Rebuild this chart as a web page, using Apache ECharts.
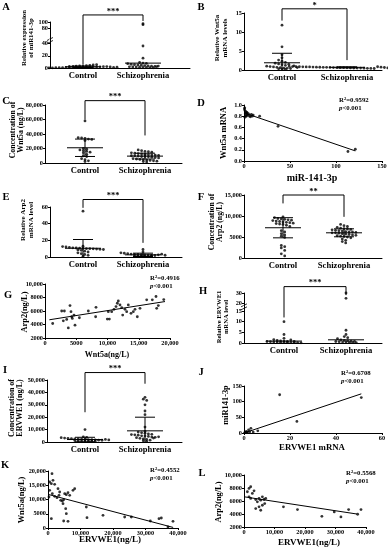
<!DOCTYPE html>
<html><head><meta charset="utf-8">
<script src="https://cdn.jsdelivr.net/npm/echarts@6.0.0/dist/echarts.min.js"></script>
<style>html,body{margin:0;padding:0;background:#fff;}#chart{width:388px;height:550px;}</style>
</head><body><div id="chart"></div>
<script>
// ================= DATA =================
const groupNames = ['Control', 'Schizophrenia'];

// A: relative expression of miR141-3p
const A_control = [0.2,0.3,0.5,0.6,0.7,0.8,0.9,1.0,1.1,1.2,1.3,1.4,1.5,1.6,1.8,2.0,2.1,2.3,2.5,2.7,3.0,3.3,3.6,4.0,4.4,5.0,5.5,1.7,0.9,1.2];
const A_schiz = [95,92,36,16,9,8,7.5,7,6,5.5,5,4.5,4,3.5,3,2.5,2,1.8,1.5,1.2,1,0.8,0.6,0.4,2.2,3.2];
const A_mean = [2.0, 8.0];
const A_sd = [1.2, 0];
const A_ticks = [0, 20, 40, 80, 100];
const A_bracket = [6, 103, 121];

// B: relative Wnt5a mRNA
const B_control = [11.8,6.1,4.0,3.2,2.6,2.3,2.0,1.8,1.6,1.4,1.2,1.0,0.9,0.8,0.7,0.6,0.5,0.45,0.4,0.3,0.25,0.2,1.1,1.5,0.65];
const B_schiz = [0.95,0.9,0.88,0.85,0.83,0.8,0.8,0.78,0.75,0.72,0.7,0.7,0.68,0.65,0.62,0.6,0.6,0.58,0.55,0.52,0.5,0.5,0.48,0.45,0.42,0.4,0.85,0.75,0.66,0.55,0.92,0.82,0.72,0.62,0.57];
const B_mean = [1.9, 0.7];
const B_sd = [2.5, 0.15];
const B_ticks = [0, 5, 10, 15];
const B_bracket = [13, 2.6, 16.1];

// C: Wnt5a concentration (ng/L)
const C_control = [58000,35000,34500,34000,33000,32500,31000,20000,19000,18000,17000,16000,15000,14000,12000,10000,9000,6000,4500,3000,2000];
const C_schiz = [18000,17000,16000,15500,15000,14000,13500,13000,12500,12000,11500,11000,11000,10500,10000,10000,9500,9000,9000,8500,8000,7500,7000,6000,5500,5000,4500,4000,3500,3000,2500,2000,1500];
const C_mean = [21000, 9500];
const C_sd = [12000, 4000];
const C_ticks = [0, 20000, 40000, 60000, 80000];
const C_bracket = [60000, 38000, 86000];

// E: relative Arp2 mRNA
const E_control = [55,13,12.5,12,11.5,11,10.8,10.5,10.2,10,10,9.8,9.5,9.2,9,8.5,8,7,6,5,4,3,2,1];
const E_schiz = [9,6,5,4.5,4,3.5,3.2,3,2.8,2.5,2.3,2,1.8,1.5,1.2,1,0.8,0.5,2.6,3.4,1.6,2.1];
const E_mean = [10.5, 2.6];
const E_sd = [10.5, 2];
const E_ticks = [0, 20, 40, 60];
const E_bracket = [59, 17, 69];

// F: Arp2 concentration (ng/L)
const F_control = [9800,9600,9400,9300,9200,9100,9000,8900,8800,8700,8600,8500,8400,8300,8200,8100,8000,7800,7500,6500,6200,5800,5500,5200,4900,3000,2700,2400,1800,1000,500];
const F_schiz = [8000,7700,7500,7300,7100,7000,6900,6800,6700,6600,6500,6400,6300,6200,6200,6100,6000,6000,5900,5800,5700,5600,5500,5400,5300,5200,5100,5000,4800,4500,4200,3900,3600];
const F_mean = [7200, 6000];
const F_sd = [2400, 950];
const F_ticks = [0, 5000, 10000, 15000];
const F_bracket = [13000, 9800, 15000];

// H: relative ERVWE1 mRNA
const H_control = [10,4,2.2,1.6,1.2,1.0,0.9,0.8,0.7,0.6,0.5,0.5,0.4,0.35,0.3,0.25,0.2,0.15,0.1,1.4,0.75];
const H_schiz = [30,25,6,4,3,2.5,2,1.5,1.2,1,0.9,0.8,0.7,0.6,0.5,0.5,0.4,0.3,0.2];
const H_mean = [0.9, 1.5];
const H_sd = [0, 0];
const H_ticks = [0, 5, 10, 15, 20, 30];
const H_bracket = [12, 28, 36];

// I: ERVWE1 concentration (ng/L)
const I_control = [10000,4200,3800,3500,3200,3000,2800,2600,2400,2200,2000,1900,1800,1600,1500,1400,1200,1000,900,800,700,600,500,2100,1700];
const I_schiz = [36000,34500,33500,30000,25000,22000,12000,8500,8000,7500,7000,6500,6000,5800,5500,5000,4800,4500,4000,3800,3500,3000,2500,2000,1500,1000,500,6200,4200,3200];
const I_mean = [2000, 9000];
const I_sd = [1800, 11000];
const I_ticks = [0, 10000, 20000, 30000, 40000, 50000];
const I_bracket = [24000, 47000, 56000];

// D: miR-141-3p vs Wnt5a mRNA
const D_x = [0.5,1,1.5,2,2.5,3,3.5,4,5,6,7,8,9,10,1,2,3,0.8,17,37,113,121];
const D_y = [0.93,0.9,0.85,0.88,0.8,0.83,0.86,0.82,0.84,0.8,0.79,0.83,0.8,0.82,0.78,0.81,0.87,0.95,0.80,0.62,0.17,0.21];
const D_fit = [[0, 0.86], [121, 0.18]];
const D_stats = ['0.9592', '0.001'];

// G: Wnt5a vs Arp2 (ng/L)
const G_x = [1230,2670,3100,2930,3470,3730,4000,4160,4270,4370,4640,4800,5500,6930,8160,8100,9970,10300,10130,10670,11040,11360,11570,11730,12000,12270,12430,12800,13070,13330,13760,14130,14400,14770,15200,16270,17170,17870,17760,18130,19000];
const G_y = [4150,6000,6000,4550,4750,3500,6800,5900,5150,4900,5400,3900,5000,6000,6550,5150,4800,4800,5900,5900,6250,6650,7150,7500,6900,6500,5400,6250,5900,6900,5650,5900,6250,5150,6400,7650,7650,6400,8150,6800,7700];
const G_fit = [[700, 4700], [19200, 7400]];
const G_stats = ['0.4916', '0.001'];

// J: ERVWE1 mRNA vs miR141-3p
const J_x = [15.5,51,23,6,3,2,1,0.5,1.5,0.8,0.3,1.2,2.5,0.6,4];
const J_y = [122,113,37,7,15,10,5,2,3,1,0.5,2,4,1,3];
const J_fit = [[0, 0], [51, 125]];
const J_stats = ['0.6708', '0.001'];

// K: ERVWE1 vs Wnt5a (ng/L)
const K_x = [1230,510,1030,1540,2050,510,1330,3080,3590,300,2050,2770,3380,3900,4410,4820,5130,5640,6150,6670,7690,8210,4620,5440,5640,4820,1030,6150,11790,12000,16920,23590,25640,31490,34150,34870,38460,36920];
const K_y = [19060,16140,15550,16720,15320,13220,12050,13800,12630,10880,11110,10640,11460,9710,9470,9940,12050,11700,12400,11460,13220,13800,8540,6780,5030,2460,3270,2340,7370,3630,4440,3860,3860,2460,3270,3510,2340,350];
const K_fit = [[0, 11800], [38500, 200]];
const K_stats = ['0.4552', '0.001'];

// L: ERVWE1 vs Arp2 (ng/L)
const L_x = [1640,2190,1100,1640,2190,2740,3290,3840,4380,4930,5480,6030,6580,7120,4930,5480,6030,3840,6790,12930,17530,25530,29590,31780,34300,37260,38360];
const L_y = [7940,8190,7420,6650,6390,7160,7570,6230,5870,6390,6130,6650,6230,6390,5100,4580,5350,4840,5610,5100,4680,3650,4320,3550,4680,3960,4680];
const L_fit = [[0, 6650], [37000, 4000]];
const L_stats = ['0.5568', '0.001'];

// ================= LAYOUT / STYLE =================
const SERIF = '"Liberation Serif", "DejaVu Serif", serif';
const ROW_H = 3.0, DOT_DX = 3.4, DOT_SIZE = 2.8;
function fmtNum(v) {
  const s = String(Math.round(v));
  return Math.abs(v) >= 10000 ? s.replace(/\B(?=(\d{3})+(?!\d))/g, ',') : s;
}
function makeT(brk) {
  if (!brk) return v => v;
  const b = brk[0], k = brk[1];
  return v => (v <= b ? v : b + (v - b) * k);
}

const dotPanels = [
  {letter:'A', L:[6,7], ctrl:A_control, schiz:A_schiz, mean:A_mean, sd:A_sd, ticks:A_ticks, bracket:A_bracket, stars:'***',
   x0:50, x1:190, y0:22, y1:68, cx:[83,143], min:0, max:100, brk:[45,0.55],
   name:'Relative expression\nof miR141-3p', nameX:28, nameY:38, nameFs:6.8},
  {letter:'B', L:[201,7], ctrl:B_control, schiz:B_schiz, mean:B_mean, sd:B_sd, ticks:B_ticks, bracket:B_bracket, stars:'*',
   x0:244, x1:382, y0:13, y1:70, cx:[282,347], min:0, max:15,
   name:'Relative Wnt5a\nmRNA levels', nameX:221, nameY:38, nameFs:7},
  {letter:'C', L:[6,101], ctrl:C_control, schiz:C_schiz, mean:C_mean, sd:C_sd, ticks:C_ticks, bracket:C_bracket, stars:'***',
   x0:45, x1:182, y0:105, y1:163, cx:[85,145], min:0, max:80000,
   name:'Concentration of\nWnt5a (ng/L)', nameX:17, nameY:130, nameFs:7.8},
  {letter:'E', L:[6,197], ctrl:E_control, schiz:E_schiz, mean:E_mean, sd:E_sd, ticks:E_ticks, bracket:E_bracket, stars:'***',
   x0:50, x1:182, y0:207, y1:257, cx:[83,143], min:0, max:60,
   name:'Relative Arp2\nmRNA level', nameX:27, nameY:220, nameFs:7},
  {letter:'F', L:[201,197], ctrl:F_control, schiz:F_schiz, mean:F_mean, sd:F_sd, ticks:F_ticks, bracket:F_bracket, stars:'**',
   x0:244, x1:382, y0:195, y1:258, cx:[283,344], min:0, max:15000,
   name:'Concentration of\nArp2 (ng/L)', nameX:216, nameY:222, nameFs:7.8},
  {letter:'H', L:[203,291], ctrl:H_control, schiz:H_schiz, mean:H_mean, sd:H_sd, ticks:H_ticks, bracket:H_bracket, stars:'***',
   x0:244, x1:382, y0:293, y1:343, cx:[284,346], min:0, max:30, brk:[17,0.5],
   name:'Relative ERVWE1\nmRNA level', nameX:223, nameY:317, nameFs:6.6},
  {letter:'I', L:[5,370], ctrl:I_control, schiz:I_schiz, mean:I_mean, sd:I_sd, ticks:I_ticks, bracket:I_bracket, stars:'***',
   x0:47, x1:182, y0:380, y1:442, cx:[85,145], min:0, max:50000,
   name:'Concentration of\nERVWE1 (ng/L)', nameX:16, nameY:408, nameFs:8}
];

const scatterPanels = [
  {letter:'D', L:[201,103], xs:D_x, ys:D_y, fit:D_fit, stats:D_stats,
   x0:244, x1:382, y0:105, y1:161, xmin:0, xmax:150, xint:50, ymin:0, ymax:1, yint:0.2, yfmt:v=>v.toFixed(1),
   xname:'miR-141-3p', xnFs:10, xnX:312, xnY:178, yname:'Wnt5a mRNA', ynFs:8.5, ynX:224, ynY:133, sX:339, sY:104},
  {letter:'G', L:[8,295], xs:G_x, ys:G_y, fit:G_fit, stats:G_stats,
   x0:45, x1:170, y0:284, y1:338, xmin:0, xmax:20000, xint:5000, ymin:2000, ymax:10000, yint:2000,
   xname:'Wnt5a(ng/L)', xnFs:8, xnX:107, xnY:355, yname:'Arp2(ng/L)', ynFs:8.4, ynX:25, ynY:312, sX:150, sY:282},
  {letter:'J', L:[201,372], xs:J_x, ys:J_y, fit:J_fit, stats:J_stats,
   x0:244, x1:382, y0:386, y1:433, xmin:0, xmax:60, xint:20, ymin:0, ymax:150, yint:50,
   xname:'ERVWE1 mRNA', xnFs:8.8, xnX:312, xnY:448, yname:'miR141-3p', ynFs:8.4, ynX:226, ynY:405, sX:341, sY:377},
  {letter:'K', L:[5,465], xs:K_x, ys:K_y, fit:K_fit, stats:K_stats,
   x0:48, x1:178, y0:471, y1:528, xmin:0, xmax:40000, xint:10000, ymin:0, ymax:20000, yint:5000,
   xname:'ERVWE1(ng/L)', xnFs:9, xnX:110, xnY:540, yname:'Wnt5a(ng/L)', ynFs:8.4, ynX:22, ynY:500, sX:150, sY:474},
  {letter:'L', L:[202,473], xs:L_x, ys:L_y, fit:L_fit, stats:L_stats,
   x0:244, x1:366, y0:475, y1:527, xmin:0, xmax:40000, xint:10000, ymin:2000, ymax:10000, yint:2000,
   xname:'ERVWE1(ng/L)', xnFs:9, xnX:309, xnY:543, yname:'Arp2(ng/L)', ynFs:8.4, ynX:219, ynY:502, sX:346, sY:477}
];

// ================= BUILD =================
const axisLine = {show:true, lineStyle:{color:'#000', width:1}};
const tickLbl = {fontSize:6.3, fontWeight:'bold', fontFamily:SERIF, color:'#000', margin:2};
const option = {animation:false, backgroundColor:'#fff', grid:[], xAxis:[], yAxis:[], series:[], graphic:[]};

function addText(x, y, text, fs, opts) {
  option.graphic.push(Object.assign({type:'text', x:x, y:y, silent:true,
    style:{text:text, fontSize:fs, fontWeight:'bold', fontFamily:SERIF, fill:'#000', align:'center', verticalAlign:'middle', lineHeight:fs*1.1}}, opts || {}));
}

let gi = 0;
dotPanels.forEach(p => {
  const T = makeT(p.brk);
  const w = p.x1 - p.x0, h = p.y1 - p.y0;
  const cf = p.cx.map(c => (c - p.x0) / w);
  const tmin = T(p.min), tmax = T(p.max);
  option.grid.push({left:p.x0, top:p.y0, width:w, height:h, containLabel:false, outerBoundsMode:'none'});
  option.xAxis.push({gridIndex:gi, type:'value', min:0, max:1, axisLine:axisLine, axisTick:{show:false}, splitLine:{show:false},
    axisLabel:{customValues:cf, formatter:v => groupNames[Math.abs(v-cf[0]) < Math.abs(v-cf[1]) ? 0 : 1],
      fontSize:8.6, fontWeight:'bold', fontFamily:SERIF, color:'#000', margin:3}});
  const tv = p.ticks.map(T);
  option.yAxis.push({gridIndex:gi, type:'value', min:tmin, max:tmax, axisLine:axisLine, splitLine:{show:false},
    axisTick:{show:true, length:2, customValues:tv, lineStyle:{color:'#000'}},
    axisLabel:Object.assign({}, tickLbl, {customValues:tv, formatter:v => {
      const i = tv.findIndex(t => Math.abs(t - v) < 1e-6); return i < 0 ? '' : fmtNum(p.ticks[i]); }})});
  // beeswarm positions computed from values
  [p.ctrl, p.schiz].forEach((vals, k) => {
    const rows = {};
    vals.forEach(v => { const py = (T(v) - tmin) / (tmax - tmin) * h; const r = Math.round(py / ROW_H); (rows[r] = rows[r] || []).push(v); });
    const pts = [];
    Object.keys(rows).forEach(r => { const arr = rows[r], n = arr.length;
      arr.forEach((v, i) => pts.push([cf[k] + (i - (n - 1) / 2) * DOT_DX / w, T(v)])); });
    option.series.push({type:'scatter', xAxisIndex:gi, yAxisIndex:gi, data:pts, symbolSize:DOT_SIZE,
      itemStyle:{color:'#000'}, silent:true, clip:false});
  });
  // mean +/- SD
  option.series.push({type:'custom', xAxisIndex:gi, yAxisIndex:gi, silent:true, clip:false,
    data:[0,1].map(k => [cf[k], T(p.mean[k]), T(Math.max(p.mean[k] - p.sd[k], p.min)), T(p.mean[k] + p.sd[k]), p.sd[k]]),
    renderItem:(params, api) => {
      const m = api.coord([api.value(0), api.value(1)]);
      const lo = api.coord([api.value(0), api.value(2)]);
      const hi = api.coord([api.value(0), api.value(3)]);
      const st = {stroke:'#000', lineWidth:1};
      const ch = [{type:'line', shape:{x1:m[0]-18, y1:m[1], x2:m[0]+18, y2:m[1]}, style:st}];
      if (api.value(4) > 0) {
        ch.push({type:'line', shape:{x1:m[0], y1:lo[1], x2:m[0], y2:hi[1]}, style:st});
        ch.push({type:'line', shape:{x1:m[0]-10, y1:hi[1], x2:m[0]+10, y2:hi[1]}, style:st});
        if (api.value(2) > T(p.min)) ch.push({type:'line', shape:{x1:m[0]-10, y1:lo[1], x2:m[0]+10, y2:lo[1]}, style:st});
      }
      return {type:'group', children:ch};
    }});
  // significance bracket
  option.series.push({type:'custom', xAxisIndex:gi, yAxisIndex:gi, silent:true, clip:false,
    data:[[cf[0], T(p.bracket[0]), cf[1], T(p.bracket[1]), T(p.bracket[2])]],
    renderItem:(params, api) => {
      const a = api.coord([api.value(0), api.value(1)]);
      const b = api.coord([api.value(0), api.value(4)]);
      const c = api.coord([api.value(2), api.value(4)]);
      const d = api.coord([api.value(2), api.value(3)]);
      return {type:'group', children:[
        {type:'polyline', shape:{points:[a, b, c, d]}, style:{stroke:'#000', lineWidth:1, fill:null}},
        {type:'text', style:{text:p.stars, x:(b[0]+c[0])/2, y:b[1]+1, align:'center', verticalAlign:'bottom',
          fontSize:8.5, fontWeight:'bold', fontFamily:SERIF, fill:'#000'}}]};
    }});
  // axis break marks
  if (p.brk) {
    const yb = p.y1 - (T(p.brk[0]) - tmin) / (tmax - tmin) * h;
    [-1.5, 1.5].forEach(o => option.graphic.push({type:'line', silent:true,
      shape:{x1:p.x0-3, y1:yb+o+1.5, x2:p.x0+3, y2:yb+o-1.5}, style:{stroke:'#000', lineWidth:0.8}}));
    option.graphic.push({type:'rect', silent:true, shape:{x:p.x0-1, y:yb-1.2, width:2, height:2.4}, style:{fill:'#fff'}});
  }
  addText(p.L[0], p.L[1], p.letter, 10.5);
  addText(p.nameX, p.nameY, p.name, p.nameFs, {rotation:Math.PI/2});
  gi++;
});

scatterPanels.forEach(p => {
  const w = p.x1 - p.x0, h = p.y1 - p.y0;
  option.grid.push({left:p.x0, top:p.y0, width:w, height:h, containLabel:false, outerBoundsMode:'none'});
  option.xAxis.push({gridIndex:gi, type:'value', min:p.xmin, max:p.xmax, interval:p.xint, axisLine:axisLine, splitLine:{show:false},
    axisTick:{show:true, length:2, lineStyle:{color:'#000'}},
    axisLabel:Object.assign({}, tickLbl, {formatter:v => fmtNum(v), showMinLabel:true, showMaxLabel:true})});
  option.yAxis.push({gridIndex:gi, type:'value', min:p.ymin, max:p.ymax, interval:p.yint, axisLine:axisLine, splitLine:{show:false},
    axisTick:{show:true, length:2, lineStyle:{color:'#000'}},
    axisLabel:Object.assign({}, tickLbl, {formatter:p.yfmt || (v => fmtNum(v))})});
  option.series.push({type:'scatter', xAxisIndex:gi, yAxisIndex:gi, data:p.xs.map((x, i) => [x, p.ys[i]]),
    symbolSize:DOT_SIZE, itemStyle:{color:'#000'}, silent:true});
  option.series.push({type:'line', xAxisIndex:gi, yAxisIndex:gi, data:p.fit, showSymbol:false, symbol:'none',
    lineStyle:{color:'#000', width:1}, silent:true});
  addText(p.L[0], p.L[1], p.letter, 10.5);
  addText(p.xnX, p.xnY, p.xname, p.xnFs);
  addText(p.ynX, p.ynY, p.yname, p.ynFs, {rotation:Math.PI/2});
  option.graphic.push({type:'text', x:p.sX, y:p.sY, silent:true, style:{
    text:'{a|R}{s|2}{a|=' + p.stats[0] + '}\n{i|p}{a|<' + p.stats[1] + '}', align:'left', verticalAlign:'middle',
    rich:{a:{fontSize:6.8, fontWeight:'bold', fontFamily:SERIF, fill:'#000', lineHeight:8},
          s:{fontSize:4.6, fontWeight:'bold', fontFamily:SERIF, fill:'#000', verticalAlign:'top', lineHeight:8},
          i:{fontSize:6.8, fontWeight:'bold', fontStyle:'italic', fontFamily:SERIF, fill:'#000', lineHeight:8}}}});
  gi++;
});

const chart = echarts.init(document.getElementById('chart'), null, {renderer:'canvas'});
chart.setOption(option);
</script>
</body></html>
